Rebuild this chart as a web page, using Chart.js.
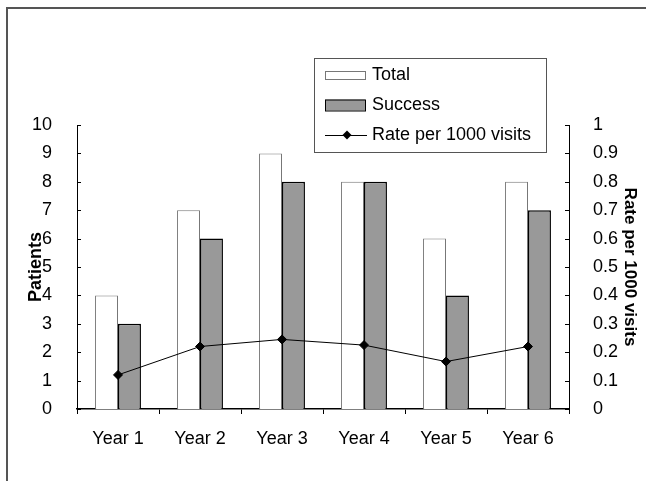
<!DOCTYPE html>
<html>
<head>
<meta charset="utf-8">
<title>Patients and rate per 1000 visits</title>
<script src="https://cdn.jsdelivr.net/npm/chart.js@4.4.0/dist/chart.umd.min.js"></script>
<style>
  body { margin: 0; background: #fff; }
  #wrap { position: relative; width: 646px; height: 481px; }
  #frame { position: absolute; left: 6px; top: 7px; right: 0; bottom: 0;
           border-top: 2px solid #555; border-left: 2px solid #555; }
  canvas { position: absolute; left: 0; top: 0; }
</style>
</head>
<body>
<div id="wrap">
  <div id="frame"></div>
  <canvas id="myChart" width="646" height="481"></canvas>
</div>

<script>
// chart data
const years = ["Year 1", "Year 2", "Year 3", "Year 4", "Year 5", "Year 6"];
const total = [4, 7, 9, 8, 6, 8];
const success = [3, 6, 8, 8, 4, 7];
const ratePer1000 = [0.12, 0.22, 0.245, 0.225, 0.167, 0.22];
const patientTicks = [0, 1, 2, 3, 4, 5, 6, 7, 8, 9, 10];
const rateTicks = [0, 0.1, 0.2, 0.3, 0.4, 0.5, 0.6, 0.7, 0.8, 0.9, 1];

const FONT = "Arial, 'Liberation Sans', sans-serif";

// small ticks pointing into the plot on both y axes
const innerTicks = {
    id: 'innerTicks',
    afterDraw(chart) {
        const ctx = chart.ctx;
        ctx.save();
        ctx.strokeStyle = '#000';
        ctx.lineWidth = 1;
        ['y', 'y1'].forEach(id => {
            const sc = chart.scales[id];
            const x = id === 'y' ? sc.right : sc.left;
            const dir = id === 'y' ? 1 : -1;
            sc.ticks.forEach(t => {
                const py = Math.round(sc.getPixelForValue(t.value)) + 0.5;
                ctx.beginPath();
                ctx.moveTo(x, py);
                ctx.lineTo(x + dir * 4, py);
                ctx.stroke();
            });
        });
        ctx.restore();
    }
};

// boxed legend in the top right, like the original
const boxLegend = {
    id: 'boxLegend',
    afterDraw(chart) {
        const ctx = chart.ctx;
        const ds = chart.data.datasets;
        const bx = 314, by = 58, bw = 232, bh = 94;
        ctx.save();
        ctx.fillStyle = '#fff';
        ctx.fillRect(bx, by, bw, bh);
        ctx.strokeStyle = '#555';
        ctx.lineWidth = 1;
        ctx.strokeRect(bx + 0.5, by + 0.5, bw, bh);
        ctx.font = "18px " + FONT;
        ctx.textBaseline = 'middle';
        ds.forEach((d, i) => {
            const cy = 75 + i * 30;
            if (d.type === 'line') {
                ctx.strokeStyle = d.borderColor;
                ctx.lineWidth = 1;
                ctx.beginPath();
                ctx.moveTo(325, cy + 0.5);
                ctx.lineTo(367, cy + 0.5);
                ctx.stroke();
                ctx.fillStyle = d.pointBackgroundColor;
                ctx.beginPath();
                ctx.moveTo(347, cy - 4.5);
                ctx.lineTo(351.5, cy);
                ctx.lineTo(347, cy + 4.5);
                ctx.lineTo(342.5, cy);
                ctx.closePath();
                ctx.fill();
            } else {
                const h = i === 0 ? 8 : 11;
                ctx.fillStyle = d.backgroundColor;
                ctx.fillRect(325, cy - h / 2, 40, h);
                ctx.strokeStyle = d.borderColor;
                ctx.lineWidth = 1;
                ctx.strokeRect(325.5, cy - h / 2 + 0.5, 40, h);
            }
            ctx.fillStyle = '#000';
            ctx.fillText(d.label, 372, cy);
        });
        ctx.restore();
    }
};

const myChart = new Chart(document.getElementById('myChart'), {
    type: 'bar',
    data: {
        labels: years,
        datasets: [
            {
                label: 'Total',
                data: total,
                backgroundColor: '#ffffff',
                borderColor: '#777777',
                borderWidth: 1,
                yAxisID: 'y',
                order: 2,
                categoryPercentage: 0.56,
                barPercentage: 1.0
            },
            {
                label: 'Success',
                data: success,
                backgroundColor: '#999999',
                borderColor: '#000000',
                borderWidth: 1.5,
                yAxisID: 'y',
                order: 2,
                categoryPercentage: 0.56,
                barPercentage: 1.0
            },
            {
                type: 'line',
                label: 'Rate per 1000 visits',
                data: ratePer1000,
                borderColor: '#000000',
                borderWidth: 1,
                pointStyle: 'rectRot',
                pointRadius: 4.5,
                pointBackgroundColor: '#000000',
                pointBorderColor: '#000000',
                fill: false,
                tension: 0,
                yAxisID: 'y1',
                order: 0
            }
        ]
    },
    options: {
        responsive: false,
        animation: false,
        layout: { padding: { top: 125, left: 0, right: 0, bottom: 0 } },
        plugins: {
            legend: { display: false },
            tooltip: { enabled: false }
        },
        scales: {
            x: {
                offset: true,
                grid: { display: true, drawOnChartArea: false, offset: true, color: '#000', tickLength: 5 },
                border: { display: true, color: '#000', width: 1.5 },
                ticks: { color: '#000', font: { family: FONT, size: 18 }, padding: 14 },
                afterFit(sc) { sc.height = 72; }
            },
            y: {
                position: 'left',
                min: 0, max: 10,
                afterBuildTicks(sc) { sc.ticks = patientTicks.map(v => ({ value: v })); },
                grid: { display: false },
                border: { display: true, color: '#000', width: 1 },
                ticks: { color: '#000', font: { family: FONT, size: 18 }, padding: 17,
                         callback: v => String(v) },
                title: { display: true, text: 'Patients', color: '#000',
                         font: { family: FONT, size: 18, weight: 'bold', lineHeight: 1.2 },
                         padding: { top: 25, bottom: 0 } },
                afterFit(sc) { sc.width = 77; }
            },
            y1: {
                position: 'right',
                min: 0, max: 1,
                afterBuildTicks(sc) { sc.ticks = rateTicks.map(v => ({ value: v })); },
                grid: { display: false },
                border: { display: true, color: '#000', width: 1 },
                ticks: { color: '#000', font: { family: FONT, size: 18 }, padding: 16,
                         callback: v => String(v) },
                title: { display: true, text: 'Rate per 1000 visits', color: '#000',
                         font: { family: FONT, size: 17, weight: 'bold', lineHeight: 1.2 },
                         padding: { top: 6, bottom: 0 } },
                afterFit(sc) { sc.width = 77; }
            }
        }
    },
    plugins: [innerTicks, boxLegend]
});
</script>
</body>
</html>
